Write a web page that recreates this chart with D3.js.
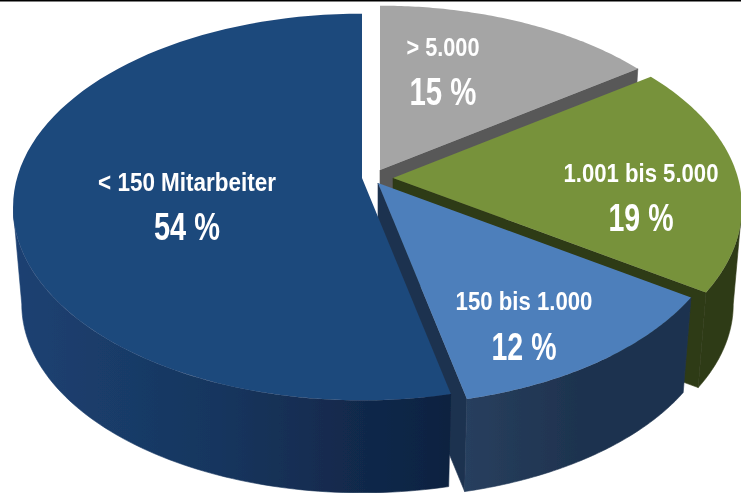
<!DOCTYPE html>
<html>
<head>
<meta charset="utf-8">
<script src="https://cdn.jsdelivr.net/npm/d3@7"></script>
<style>
body { margin: 0; background: #fff; }
svg { display: block; }
text { font-family: "Liberation Sans", Arial, sans-serif; fill: #fff; text-anchor: middle; }
</style>
</head>
<body>
<script>
// pie order is clockwise from 12 o'clock
var categories = ['> 5.000', '1.001 bis 5.000', '150 bis 1.000', '< 150 Mitarbeiter'];
var values = [15, 19, 12, 54];
var valueLabels = ['15 %', '19 %', '12 %', '54 %'];
var topColors = ['#a5a5a5', '#77923b', '#4e7fbb', '#1f487b'];
var wallColors = ['#595959', '#2f3a15', 'url(#wall2)', 'url(#wall3)'];

// where every slice was pulled to (tip of the slice on screen)
var tips = [[380, 170], [393, 178], [378, 183], [362, 178]];
var labelAt = [[443, 56, 105], [641, 182, 231], [524, 310, 360], [187, 191, 240]];
var nameWidth = [73, 155, 137, 178];
var pctWidth = [67, 65, 65, 66];

var width = 741, height = 494;
var R = 345, S = 189, k = 0.15;   // disc size and perspective
var depth = 98, shrink = 0.975;   // thickness, bottom disc is a bit smaller
var warp = 0.03;                  // source pie is slightly turned towards the front

var svg = d3.select('body').append('svg')
	.attr('width', width)
	.attr('height', height);

var defs = svg.append('defs');
defs.append('filter').attr('id', 'soft')
	.attr('x', 0).attr('y', 0).attr('width', 1).attr('height', 1)
	.append('feGaussianBlur').attr('stdDeviation', 0.5);

// gradients are in the slice's own coordinates, tip = 0
function hGrad(id, x1, x2, stops) {
	var g = defs.append('linearGradient')
		.attr('id', id)
		.attr('gradientUnits', 'userSpaceOnUse')
		.attr('x1', x1).attr('x2', x2)
		.attr('y1', 0).attr('y2', 0);
	stops.forEach(function(s) {
		g.append('stop').attr('offset', s[0]).attr('stop-color', s[1]);
	});
}
hGrad('wall3', -347, 93, [[0, '#1c4172'], [0.45, '#17365f'], [0.8, '#11284a'], [1, '#0e2240']]);
hGrad('wall2', 87, 200, [[0, '#283f5e'], [1, '#1e334f']]);

var chart = svg.append('g').attr('filter', 'url(#soft)');
var slices = d3.pie().sort(null)(values);

// point on the disc, t = angle clockwise from top
function topPt(t, r) {
	var u = t + warp * (1 - Math.cos(t)) / 2;
	var X = r * Math.sin(u), Y = r * Math.cos(u);
	var w = 1 + k * Y;
	return [R * X / w, -S * Y / w];
}
function botPt(t, r) {
	var p = topPt(t, r);
	return [p[0] * shrink, p[1] * shrink + depth];
}
function arcPts(fn, t1, t2) {
	var n = 80;
	return d3.range(n + 1).map(function(i) {
		return fn(t1 + (t2 - t1) * i / n, 1);
	});
}
var line = d3.line();

// silhouette of the disc: left and right extremes are where cos(t) = -k
var frontFrom = Math.PI / 2 + 0.133;
var frontTo = Math.PI * 1.5 - 0.167;

slices.forEach(function(d, i) {
	var g = chart.append('g')
		.attr('transform', 'translate(' + tips[i][0] + ',' + tips[i][1] + ')');

	// inner wall at the clockwise end
	if (i < 3) {
		var e = d.endAngle;
		var inner = i == 2 ? '#1e334f' : wallColors[i];
		g.append('path')
			.attr('d', line([[0, 0], topPt(e, 1), botPt(e, 1), botPt(e, 0)]) + 'Z')
			.attr('fill', inner)
			.attr('stroke', inner)
			.attr('stroke-width', 0.6);
	}

	// outer wall on the front half
	var a = Math.max(d.startAngle, frontFrom);
	var b = Math.min(d.endAngle, frontTo);
	if (b > a) {
		g.append('path')
			.attr('d', line(arcPts(topPt, a, b).concat(arcPts(botPt, b, a))) + 'Z')
			.attr('fill', wallColors[i])
			.attr('stroke', wallColors[i])
			.attr('stroke-width', 0.6);
	}

	// top face
	g.append('path')
		.attr('d', line([[0, 0]].concat(arcPts(topPt, d.startAngle, d.endAngle))) + 'Z')
		.attr('fill', topColors[i]);
});

// labels are squeezed sideways like in the source image
function label(txt, cx, y, size, target) {
	var t = chart.append('text')
		.attr('font-size', size)
		.attr('font-weight', 'bold')
		.text(txt);
	var sx = target / t.node().getComputedTextLength();
	t.attr('transform', 'translate(' + cx + ',' + y + ') scale(' + sx + ',1)');
}
categories.forEach(function(c, i) {
	label(c, labelAt[i][0], labelAt[i][1], 26, nameWidth[i]);
	label(valueLabels[i], labelAt[i][0], labelAt[i][2], 39, pctWidth[i]);
});

// black rule on the top edge
svg.append('rect')
	.attr('width', width)
	.attr('height', 1.5)
	.attr('fill', '#000');
</script>
</body>
</html>
